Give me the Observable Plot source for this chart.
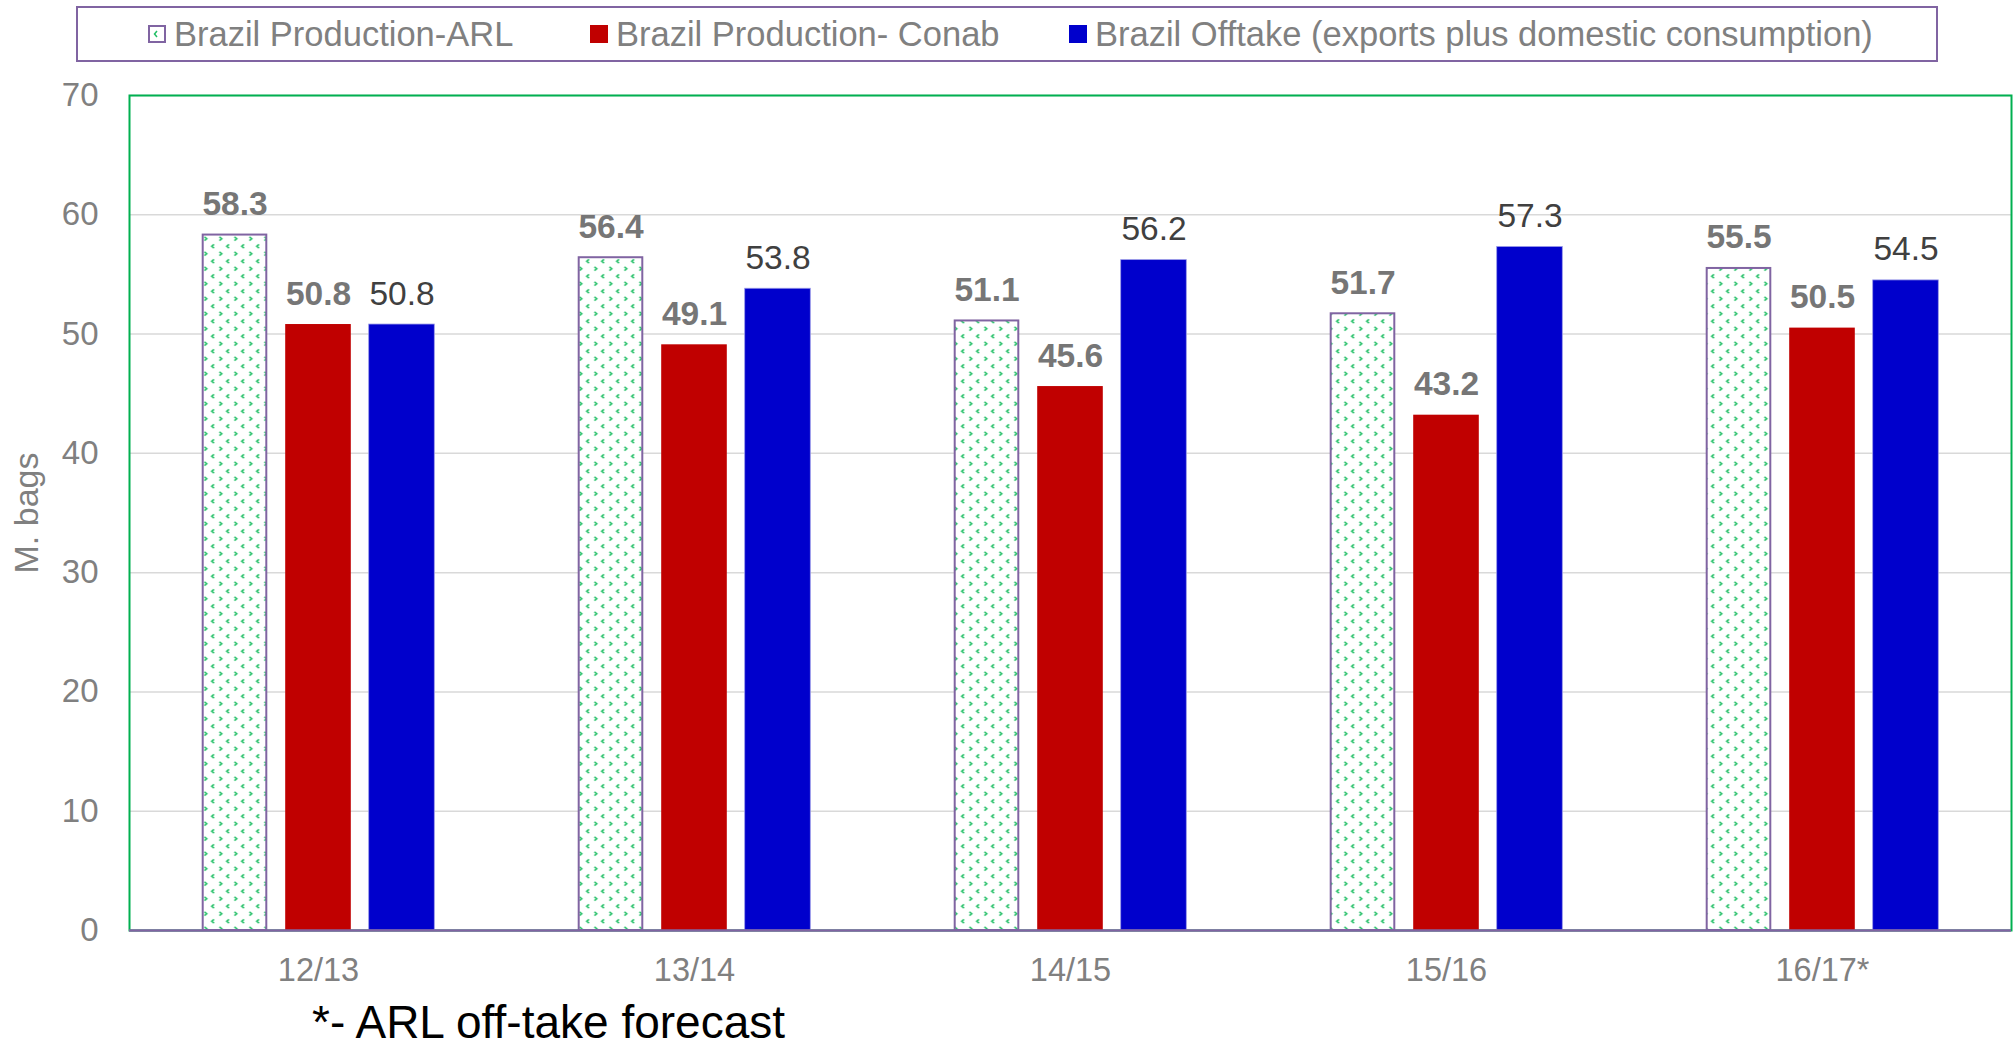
<!DOCTYPE html>
<html>
<head>
<meta charset="utf-8">
<script src="https://cdn.jsdelivr.net/npm/d3@7"></script>
<script src="https://cdn.jsdelivr.net/npm/@observablehq/plot@0.6"></script>
<style>
  html, body { margin: 0; padding: 0; background: #fff; }
  body { width: 2015px; height: 1044px; position: relative; overflow: hidden;
         font-family: "Liberation Sans", Arial, sans-serif; }
  #legend { position: absolute; left: 76px; top: 6px; width: 1862px; height: 56px;
            box-sizing: border-box; border: 2px solid #8064A2; }
  .item { position: absolute; top: 0; height: 52px; display: flex; align-items: center;
          font-size: 34.5px; color: #808080; white-space: nowrap; }
  .sw { display: block; width: 18px; height: 18px; margin-right: 8px; flex: none; }
  #chart { position: absolute; left: 0; top: 70px; }
  #foot { position: absolute; left: 312px; top: 999px; font-size: 46px; line-height: 46px; color: #000; white-space: nowrap; }
</style>
</head>
<body>
<div id="legend"></div>
<div id="chart"></div>
<div id="foot"></div>
<script>
// ---- data ----
const seasons = ["12/13", "13/14", "14/15", "15/16", "16/17*"];
const arlProduction = [58.3, 56.4, 51.1, 51.7, 55.5];
const conabProduction = [50.8, 49.1, 45.6, 43.2, 50.5];
const offtake = [50.8, 53.8, 56.2, 57.3, 54.5];
const seriesNames = ["Brazil Production-ARL", "Brazil Production- Conab", "Brazil Offtake (exports plus domestic consumption)"];
const yTicks = [0, 10, 20, 30, 40, 50, 60, 70];
const yLabel = "M. bags";
const footnote = "*- ARL off-take forecast";

const rows = seasons.map((s, i) => ({season: s, arl: arlProduction[i], conab: conabProduction[i], offtake: offtake[i]}));

// ---- styling ----
const GREEN = "#00B050", PURPLE = "#8064A2", RED = "#C00000", BLUE = "#0000CC", CHEV = "#22bf66";
const W = 2015, H = 920;
const mL = 129, mR = 4, mT = 25, mB = 60;
const bandW = (W - mL - mR) / seasons.length;
const barW = 66, barStep = 83.5;
const inset = (bandW - barW) / 2;
const offs = [-barStep, 0, barStep];

const chart = Plot.plot({
  width: W, height: H,
  marginLeft: mL, marginRight: mR, marginTop: mT, marginBottom: mB,
  style: {fontFamily: "'Liberation Sans', Arial, sans-serif", fontSize: "32px", color: "#808080", background: "white", overflow: "visible"},
  x: {domain: seasons, padding: 0},
  y: {domain: [0, 70]},
  marks: [
    Plot.gridY(yTicks, {stroke: "#d9d9d9", strokeOpacity: 1, strokeWidth: 1.5}),
    Plot.frame({stroke: GREEN, strokeWidth: 2}),
    Plot.barY(rows, {x: "season", y: "arl", dx: offs[0], insetLeft: inset + 1, insetRight: inset + 1, fill: "url(#arlPattern)", stroke: PURPLE, strokeWidth: 2}),
    Plot.barY(rows, {x: "season", y: "conab", dx: offs[1], insetLeft: inset, insetRight: inset, fill: RED}),
    Plot.barY(rows, {x: "season", y: "offtake", dx: offs[2], insetLeft: inset, insetRight: inset, fill: BLUE, stroke: "#9a9ae8", strokeWidth: 0.8}),
    Plot.ruleY([0], {stroke: PURPLE, strokeWidth: 2.5}),
    Plot.text(rows, {x: "season", y: "arl", text: d => d.arl.toFixed(1), dx: offs[0], dy: -20, lineAnchor: "bottom", fontWeight: "bold", fill: "#767676", fontSize: 33.5}),
    Plot.text(rows, {x: "season", y: "conab", text: d => d.conab.toFixed(1), dx: offs[1], dy: -20, lineAnchor: "bottom", fontWeight: "bold", fill: "#767676", fontSize: 33.5}),
    Plot.text(rows, {x: "season", y: "offtake", text: d => d.offtake.toFixed(1), dx: offs[2], dy: -20, lineAnchor: "bottom", fill: "#404040", fontSize: 33.5}),
    Plot.axisY({ticks: yTicks, tickSize: 0, tickPadding: 31, fontSize: 33, label: yLabel, labelAnchor: "center", labelArrow: "none", labelOffset: 116}),
    Plot.axisX({tickSize: 0, tickPadding: 27, fontSize: 32.5, label: null})
  ]
});

// make y-axis title slightly larger like the reference
chart.querySelectorAll("text").forEach(t => { if (t.textContent === yLabel) t.setAttribute("font-size", "34"); });

// pattern for ARL bars
const ns = "http://www.w3.org/2000/svg";
const chevrons = `<path d="M3 1.8 L5.2 3.75 L3 5.7" fill="none" stroke="${CHEV}" stroke-width="1.6"/>
    <path d="M12.5 9.3 L10.3 11.25 L12.5 13.2" fill="none" stroke="${CHEV}" stroke-width="1.6"/>`;
const p = document.createElementNS(ns, "pattern");
p.setAttribute("id", "arlPattern");
p.setAttribute("patternUnits", "userSpaceOnUse");
p.setAttribute("width", "15");
p.setAttribute("height", "15");
p.innerHTML = `<rect width="15" height="15" fill="white"/>${chevrons}`;
const defs = document.createElementNS(ns, "defs");
defs.appendChild(p);
chart.insertBefore(defs, chart.firstChild);
document.getElementById("chart").appendChild(chart);

// legend
const legend = document.getElementById("legend");
const lefts = [148 - 78, 590 - 78, 1069 - 78];
const swatches = [
  `<svg class="sw" viewBox="0 0 18 18"><rect x="1" y="1" width="16" height="16" fill="white" stroke="${PURPLE}" stroke-width="2"/><path d="M9 6 L6.5 9 L9 12" fill="none" stroke="${CHEV}" stroke-width="1.5"/></svg>`,
  `<svg class="sw" viewBox="0 0 18 18"><rect width="18" height="18" fill="${RED}"/></svg>`,
  `<svg class="sw" viewBox="0 0 18 18"><rect width="18" height="18" fill="${BLUE}"/></svg>`
];
seriesNames.forEach((name, i) => {
  const it = document.createElement("div");
  it.className = "item";
  it.style.left = lefts[i] + "px";
  it.innerHTML = swatches[i] + `<span>${name}</span>`;
  legend.appendChild(it);
});
document.getElementById("foot").textContent = footnote;
</script>
</body>
</html>
